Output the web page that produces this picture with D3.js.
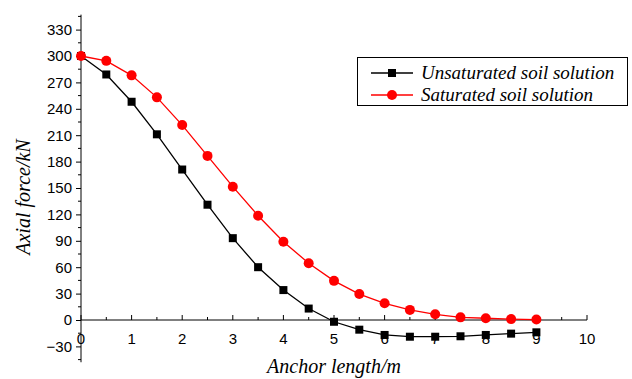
<!DOCTYPE html>
<html>
<head>
<meta charset="utf-8">
<script src="https://cdn.jsdelivr.net/npm/d3@7"></script>
<style>
  body { margin: 0; background: #fff; }
  svg { display: block; }
</style>
</head>
<body>
<svg id="chart"></svg>
<script>
const anchorLength = [0, 0.5, 1, 1.5, 2, 2.5, 3, 3.5, 4, 4.5, 5, 5.5, 6, 6.5, 7, 7.5, 8, 8.5, 9]
const unsaturated = [300, 279, 248, 211, 171, 131, 93, 60, 34, 13, -2, -11, -17, -19, -19, -18.5, -17, -15.5, -14]
const saturated = [300, 294.5, 278, 253, 221.5, 186.5, 151.5, 118.5, 89, 64.5, 44.5, 29.5, 19, 11.5, 6.5, 3, 2, 1, 0.5]
const xTicks = [0, 1, 2, 3, 4, 5, 6, 7, 8, 9, 10]
const yTicks = [-30, 0, 30, 60, 90, 120, 150, 180, 210, 240, 270, 300, 330]
const seriesNames = ['Unsaturated soil solution', 'Saturated soil solution']

const width = 632
const height = 379

const svg = d3.select('#chart')
  .attr('width', width)
  .attr('height', height)

const x = d3.scaleLinear().domain([0, 10]).range([81, 587])
const y = d3.scaleLinear().domain([-48, 347]).range([362.24, 14.64])

const axisFont = 'Arial, "Liberation Sans", sans-serif'
const titleFont = '"Times New Roman", "Liberation Serif", serif'

// y axis, ticks outward to the left
const yAxis = d3.axisLeft(y)
  .tickValues(yTicks)
  .tickSize(5)
  .tickPadding(4)
const gy = svg.append('g')
  .attr('transform', `translate(${x(0)},0)`)
  .call(yAxis)
gy.select('.domain').attr('d', `M0,${y.range()[0]}V${y.range()[1]}`)
gy.selectAll('text').style('font-family', axisFont).style('font-size', '15px')

// minor y ticks
gy.selectAll('.minor')
  .data(d3.range(-45, 346, 30))
  .join('line')
  .attr('class', 'minor')
  .attr('x1', -3).attr('x2', 0)
  .attr('y1', d => y(d)).attr('y2', d => y(d))
  .attr('stroke', '#000')

// x axis sits at zero, ticks point up, labels below
const gx = svg.append('g')
  .attr('transform', `translate(0,${y(0)})`)
gx.append('line')
  .attr('x1', x(0)).attr('x2', x(10))
  .attr('stroke', '#000')
gx.selectAll('.major')
  .data(xTicks)
  .join('line')
  .attr('class', 'major')
  .attr('x1', d => x(d)).attr('x2', d => x(d))
  .attr('y1', -5).attr('y2', 0)
  .attr('stroke', '#000')
gx.selectAll('.minor')
  .data(d3.range(0.5, 10, 1))
  .join('line')
  .attr('class', 'minor')
  .attr('x1', d => x(d)).attr('x2', d => x(d))
  .attr('y1', -3).attr('y2', 0)
  .attr('stroke', '#000')
gx.selectAll('text')
  .data(xTicks)
  .join('text')
  .attr('x', d => x(d))
  .attr('y', 24)
  .attr('text-anchor', 'middle')
  .style('font-family', axisFont)
  .style('font-size', '15px')
  .text(d => d)

// axis titles
svg.append('text')
  .attr('transform', `translate(30,197) rotate(-90)`)
  .attr('text-anchor', 'middle')
  .style('font-family', titleFont)
  .style('font-style', 'italic')
  .style('font-size', '20px')
  .text('Axial force/kN')

svg.append('text')
  .attr('x', x(5))
  .attr('y', 373)
  .attr('text-anchor', 'middle')
  .style('font-family', titleFont)
  .style('font-style', 'italic')
  .style('font-size', '20px')
  .text('Anchor length/m')

// lines
const line = vals => d3.line()
  .x((d, i) => x(anchorLength[i]))
  .y(d => y(d))(vals)

svg.append('path')
  .attr('d', line(unsaturated))
  .attr('fill', 'none')
  .attr('stroke', '#000')
  .attr('stroke-width', 1.3)

svg.append('path')
  .attr('d', line(saturated))
  .attr('fill', 'none')
  .attr('stroke', '#ff0000')
  .attr('stroke-width', 1.3)

const sq = 8
svg.append('g').selectAll('rect')
  .data(unsaturated)
  .join('rect')
  .attr('x', (d, i) => x(anchorLength[i]) - sq / 2)
  .attr('y', d => y(d) - sq / 2)
  .attr('width', sq)
  .attr('height', sq)
  .attr('fill', '#000')

svg.append('g').selectAll('circle')
  .data(saturated)
  .join('circle')
  .attr('cx', (d, i) => x(anchorLength[i]))
  .attr('cy', d => y(d))
  .attr('r', 5)
  .attr('fill', '#ff0000')

// legend
const legend = svg.append('g')
legend.append('rect')
  .attr('x', 357.5).attr('y', 57.5)
  .attr('width', 270).attr('height', 48)
  .attr('fill', '#fff')
  .attr('stroke', '#000')
  .attr('stroke-width', 1)

const rows = [
  { name: seriesNames[0], color: '#000', shape: 'square', cy: 73 },
  { name: seriesNames[1], color: '#ff0000', shape: 'circle', cy: 95 }
]
rows.forEach(r => {
  legend.append('line')
    .attr('x1', 371).attr('x2', 413)
    .attr('y1', r.cy).attr('y2', r.cy)
    .attr('stroke', r.color)
    .attr('stroke-width', 1.3)
  if (r.shape === 'square') {
    legend.append('rect')
      .attr('x', 392 - sq / 2).attr('y', r.cy - sq / 2)
      .attr('width', sq).attr('height', sq)
      .attr('fill', r.color)
  } else {
    legend.append('circle')
      .attr('cx', 392).attr('cy', r.cy).attr('r', 5)
      .attr('fill', r.color)
  }
  legend.append('text')
    .attr('x', 421)
    .attr('y', r.cy + 6)
    .style('font-family', titleFont)
    .style('font-style', 'italic')
    .style('font-size', '19px')
    .text(r.name)
})
</script>
</body>
</html>
